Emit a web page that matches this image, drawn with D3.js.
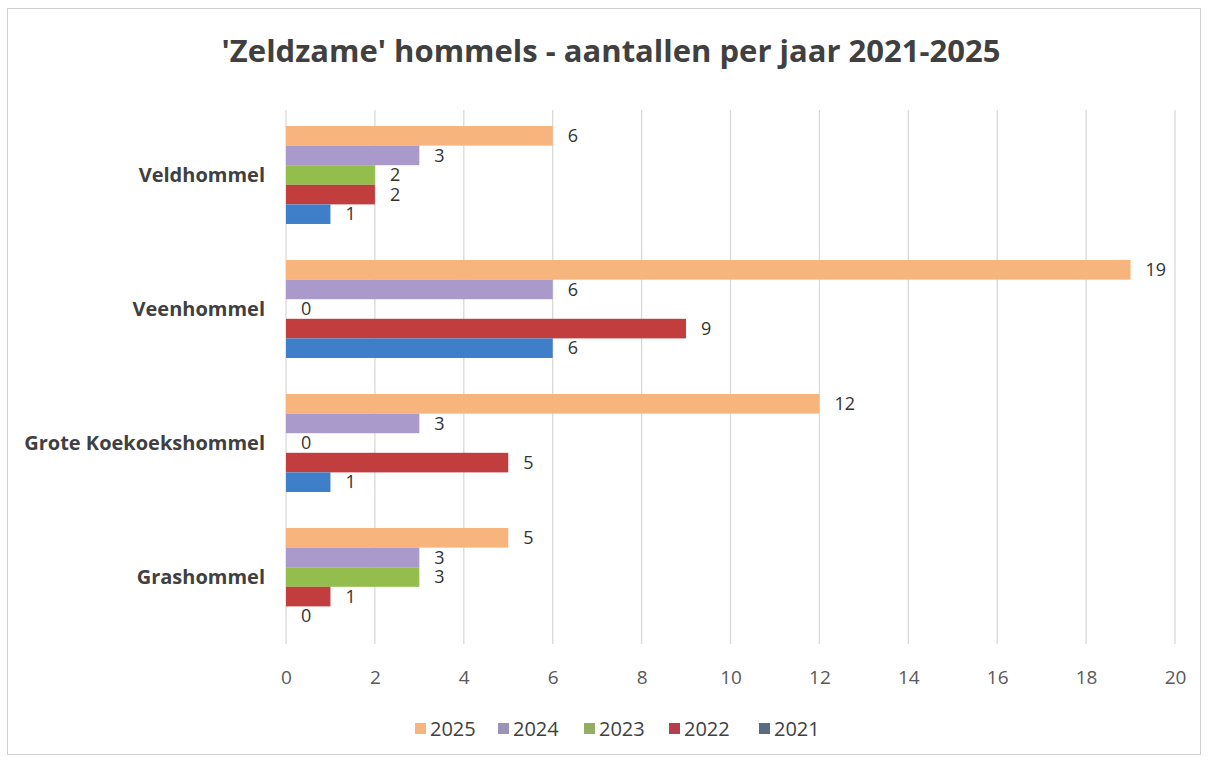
<!DOCTYPE html>
<html>
<head>
<meta charset="utf-8">
<script src="https://d3js.org/d3.v7.min.js"></script>
<style>
    body { margin: 0; background: #fff; }
    .title { font: bold 31px "Open Sans", sans-serif; fill: #404040; text-anchor: middle; }
    .cat { font: bold 20px "Open Sans", sans-serif; fill: #404040; text-anchor: end; }
    .val { font: 18px "Open Sans", sans-serif; fill: #333; }
    .tick text { font: 19px "Open Sans", sans-serif; fill: #595959; }
    .legend text { font: 20px "Open Sans", sans-serif; fill: #404040; }
</style>
</head>
<body>
<svg id="chart" width="1210" height="762"></svg>
<script>
// data
var categories = ["Veldhommel", "Veenhommel", "Grote Koekoekshommel", "Grashommel"];
var years = ["2025", "2024", "2023", "2022", "2021"];
var v2025 = [6, 19, 12, 5];
var v2024 = [3, 6, 3, 3];
var v2023 = [2, 0, 0, 3];
var v2022 = [2, 9, 5, 1];
var v2021 = [1, 6, 1, 0];
var xTicks = [0, 2, 4, 6, 8, 10, 12, 14, 16, 18, 20];
var colors = ["#F7B47C", "#A99ACB", "#93BD4C", "#C23D3D", "#3F7EC8"];
var legendColors = ["#F7B47C", "#9C94B8", "#93AE62", "#B23F4A", "#5A6B82"];

var series = [v2025, v2024, v2023, v2022, v2021];

var svg = d3.select("#chart");

// chart border
svg.append("rect")
    .attr("x", 7.5).attr("y", 8.5)
    .attr("width", 1193).attr("height", 746)
    .attr("fill", "none").attr("stroke", "#d0d0d0");

svg.append("text").attr("class", "title")
    .attr("x", 611).attr("y", 62)
    .text("'Zeldzame' hommels - aantallen per jaar 2021-2025");

var x = d3.scaleLinear().domain([0, 20]).range([286, 1175]);
var y0 = d3.scaleBand().domain(categories).range([108, 644]);
var y1 = d3.scaleBand().domain(years).range([0, y0.bandwidth()]).paddingOuter(0.92);

// gridlines
svg.append("g").selectAll("line")
    .data(xTicks)
    .join("line")
    .attr("x1", d => x(d)).attr("x2", d => x(d))
    .attr("y1", 110).attr("y2", 644)
    .attr("stroke", "#d9d9d9").attr("stroke-width", 1.3);

// x axis labels
var xAxis = d3.axisBottom(x).tickValues(xTicks).tickSize(0).tickPadding(0);
var ax = svg.append("g").attr("transform", "translate(0,670)").call(xAxis);
ax.select(".domain").remove();

// category labels
svg.append("g").selectAll("text")
    .data(categories)
    .join("text").attr("class", "cat")
    .attr("x", 265)
    .attr("y", d => y0(d) + y0.bandwidth() / 2)
    .attr("dy", "0.35em")
    .text(d => d);

var rows = [];
categories.forEach(function (c, i) {
    years.forEach(function (yr, j) {
        rows.push({cat: c, year: yr, value: series[j][i], color: colors[j]});
    });
});

var bars = svg.append("g");
bars.selectAll("rect")
    .data(rows)
    .join("rect")
    .attr("x", x(0))
    .attr("y", d => y0(d.cat) + y1(d.year))
    .attr("width", d => x(d.value) - x(0))
    .attr("height", y1.bandwidth())
    .attr("fill", d => d.color);

bars.selectAll("text")
    .data(rows)
    .join("text").attr("class", "val")
    .attr("x", d => x(d.value) + 15)
    .attr("y", d => y0(d.cat) + y1(d.year) + y1.bandwidth() / 2)
    .attr("dy", "0.35em")
    .text(d => d.value);

// legend
var lx = [415, 498, 584, 669, 759];
var legend = svg.append("g").attr("class", "legend");
years.forEach(function (yr, j) {
    var g = legend.append("g").attr("transform", "translate(" + lx[j] + ",729)");
    g.append("rect").attr("x", 0).attr("y", -6).attr("width", 11).attr("height", 11).attr("fill", legendColors[j]);
    g.append("text").attr("x", 15).attr("dy", "0.35em").text(yr);
});
</script>
</body>
</html>
